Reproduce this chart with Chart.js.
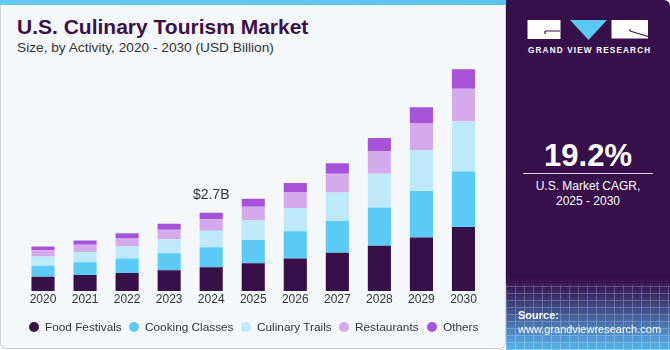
<!DOCTYPE html>
<html>
<head>
<meta charset="utf-8">
<script src="https://cdn.jsdelivr.net/npm/chart.js@4.4.1/dist/chart.umd.min.js"></script>
<style>
  html, body { margin: 0; padding: 0; width: 670px; height: 350px; overflow: hidden; background: #ffffff; font-family: "Liberation Sans", Arial, sans-serif; }
  #left { position: absolute; left: 0; top: 0; width: 504px; height: 348px; background: #f4f8fb; border: 1px solid #cfd3d6; border-top: none; border-radius: 0 0 6px 6px; box-sizing: content-box; }
  #strip { position: absolute; left: 0; top: 0; width: 506px; height: 5px; background: linear-gradient(90deg, #63c9f1, #5ac3ee); }
  #title { position: absolute; left: 17px; top: 15px; font-size: 21px; font-weight: bold; color: #3a1148; white-space: nowrap; }
  #subtitle { position: absolute; left: 17px; top: 40px; font-size: 13.7px; color: #333333; white-space: nowrap; }
  #chartWrap { position: absolute; left: 0; top: 0; width: 500px; height: 350px; }
  #legend { position: absolute; left: 0; top: 319px; height: 16px; font-size: 11.8px; color: #333; white-space: nowrap; }
  .li { position: absolute; top: 0; height: 16px; line-height: 16px; }
  .dot { position: absolute; top: 3px; width: 10px; height: 10px; border-radius: 50%; }
  #right { position: absolute; left: 506px; top: 0; width: 164px; height: 350px; border-radius: 0 6px 0 0; overflow: hidden;
    background: linear-gradient(180deg, #37104a 0px, #37104a 278px, #3b2e6a 296px, #45639f 318px, #4f92cc 336px, #58b4e8 350px); }
  #grid { position: absolute; left: 0; top: 285px; width: 164px; height: 65px; opacity: 0.25;
    background-image: repeating-linear-gradient(90deg, rgba(255,255,255,0.9) 0 1px, transparent 1px 9px), repeating-linear-gradient(0deg, rgba(255,255,255,0.9) 0 1px, transparent 1px 7px); }
  #pct { position: absolute; left: 0; width: 164px; top: 138px; text-align: center; color: #fff; font-weight: bold; font-size: 31px; }
  #hr { position: absolute; left: 17px; width: 130px; top: 173px; height: 1px; background: #d8d0e0; }
  #cagr { position: absolute; left: 0; width: 164px; top: 179px; text-align: center; color: #fff; font-size: 12px; line-height: 14.5px; }
  #src { position: absolute; left: 12px; top: 308px; color: #fff; font-size: 11px; line-height: 14px; }
  #gvr { position: absolute; left: 22px; top: 46px; color: #fff; font-weight: bold; font-size: 8.2px; letter-spacing: 1.15px; white-space: nowrap; }
</style>
</head>
<body>
<div id="left"></div>
<div id="strip"></div>
<div id="title">U.S. Culinary Tourism Market</div>
<div id="subtitle">Size, by Activity, 2020 - 2030 (USD Billion)</div>
<div id="chartWrap"><canvas id="c" width="500" height="350"></canvas></div>
<div id="legend"></div>
<div id="right">
  <div id="grid"></div>
  <svg style="position:absolute;left:0;top:0" width="164" height="45">
    <rect x="21.5" y="20" width="33" height="19" fill="#ffffff"/>
    <path d="M39 31 H54 M39 31 V34" stroke="#37104a" stroke-width="1.2" fill="none"/>
    <polygon points="64,20 101,20 82.5,40" fill="#5bc8f0"/>
    <rect x="105.5" y="20" width="36.5" height="18.5" fill="#ffffff"/>
    <path d="M124 31 L142 36.5 M124 29 V31" stroke="#37104a" stroke-width="1.2" fill="none"/>
  </svg>
  <div id="gvr">GRAND VIEW RESEARCH</div>
  <div id="pct">19.2%</div>
  <div id="hr"></div>
  <div id="cagr">U.S. Market CAGR,<br>2025 - 2030</div>
  <div id="src"><b>Source:</b><br>www.grandviewresearch.com</div>
</div>
<script>
// ---- Data (USD Billion) ----
const years = ["2020","2021","2022","2023","2024","2025","2026","2027","2028","2029","2030"];
const foodFestivals   = [0.49, 0.55, 0.62, 0.72, 0.82, 0.96, 1.12, 1.32, 1.56, 1.85, 2.21];
const cookingClasses  = [0.38, 0.44, 0.50, 0.58, 0.69, 0.80, 0.94, 1.10, 1.31, 1.60, 1.91];
const culinaryTrails  = [0.32, 0.36, 0.42, 0.49, 0.57, 0.69, 0.80, 0.98, 1.18, 1.41, 1.73];
const restaurants     = [0.22, 0.25, 0.29, 0.32, 0.40, 0.46, 0.56, 0.65, 0.78, 0.94, 1.13];
const others          = [0.13, 0.14, 0.16, 0.21, 0.22, 0.27, 0.31, 0.36, 0.45, 0.54, 0.67];
const seriesNames = ["Food Festivals", "Cooking Classes", "Culinary Trails", "Restaurants", "Others"];
const annotationIndex = 4;
const annotationText = "$2.7B";

const colors = ["#37104a", "#5bcbf5", "#bde9fa", "#d5aaed", "#a653d9"];
const seriesData = [foodFestivals, cookingClasses, culinaryTrails, restaurants, others];

const datasets = seriesNames.map((n, i) => ({
  label: n,
  data: seriesData[i],
  backgroundColor: colors[i],
  borderWidth: 0,
  barPercentage: 0.55,
  categoryPercentage: 1.0,
  stack: "s"
}));

const labelPlugin = {
  id: "annot",
  afterDatasetsDraw(chart) {
    const ctx = chart.ctx;
    const xs = chart.scales.x, ys = chart.scales.y;
    const total = seriesData.reduce((a, s) => a + s[annotationIndex], 0);
    const x = xs.getPixelForValue(annotationIndex);
    const y = ys.getPixelForValue(total) - 18;
    ctx.save();
    ctx.font = "14px 'Liberation Sans', Arial, sans-serif";
    ctx.fillStyle = "#333333";
    ctx.textAlign = "center";
    ctx.textBaseline = "middle";
    ctx.fillText(annotationText, x, y);
    ctx.restore();
  }
};

new Chart(document.getElementById("c"), {
  type: "bar",
  data: { labels: years, datasets },
  options: {
    responsive: false,
    animation: false,
    layout: { padding: { left: 22, right: 15.5, top: 59.2, bottom: 42.6 } },
    plugins: { legend: { display: false }, tooltip: { enabled: false } },
    scales: {
      x: {
        stacked: true,
        grid: { display: false, drawTicks: false },
        border: { display: false },
        ticks: { padding: 1, color: "#333333", font: { size: 12, family: "'Liberation Sans', Arial, sans-serif" }, maxRotation: 0 }
      },
      y: { stacked: true, display: false, min: 0, max: 8 }
    }
  },
  plugins: [labelPlugin]
});

// HTML legend built from series names/colours
const legendPos = [34, 134, 246, 344, 432];
const legend = document.getElementById("legend");
seriesNames.forEach((n, i) => {
  const item = document.createElement("div");
  item.className = "li";
  item.style.left = (legendPos[i] - 5) + "px";
  item.innerHTML = '<span class="dot" style="left:0;background:' + colors[i] + '"></span><span style="margin-left:16px">' + n + '</span>';
  legend.appendChild(item);
});
</script>
</body>
</html>
